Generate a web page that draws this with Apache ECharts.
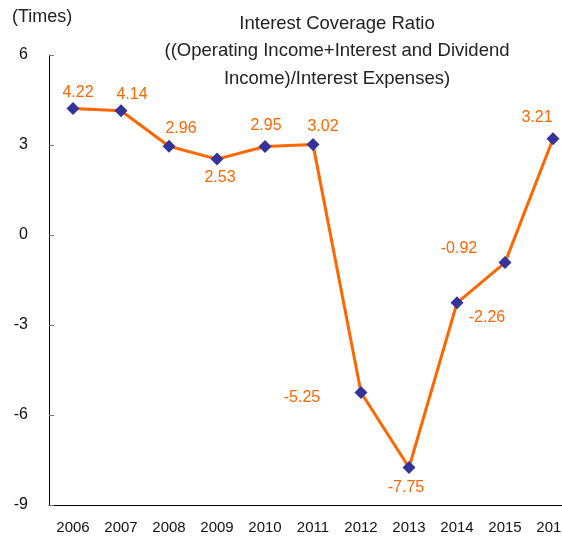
<!DOCTYPE html>
<html>
<head>
<meta charset="utf-8">
<script src="https://cdn.jsdelivr.net/npm/echarts@6/dist/echarts.min.js"></script>
<style>
  html, body { margin: 0; padding: 0; background: #fff; overflow: hidden; }
  /* the plot runs past the right edge of the window, as in the original */
  #chart { width: 577px; height: 539px; }
</style>
</head>
<body>
<div id="chart"></div>
<script>
  const years = ['2006', '2007', '2008', '2009', '2010', '2011', '2012', '2013', '2014', '2015', '2016']
  const ratio = [4.22, 4.14, 2.96, 2.53, 2.95, 3.02, -5.25, -7.75, -2.26, -0.92, 3.21]

  // where each value label sits relative to its marker
  const labelShift = [
    [5, -16], [11, -16], [12, -18], [3, 18], [1, -21], [10, -18],
    [-59, 5], [-3, 20], [30, 15], [-46, -14], [-16, -21]
  ]

  const font = 'Liberation Sans, Arial, sans-serif'
  const chart = echarts.init(document.getElementById('chart'))
  chart.setOption({
    backgroundColor: '#fff',
    animation: false,
    textStyle: { fontFamily: font },
    title: {
      text: 'Interest Coverage Ratio\n((Operating Income+Interest and Dividend\nIncome)/Interest Expenses)',
      left: 332,
      top: 5,
      textAlign: 'center',
      textStyle: { fontSize: 18.5, fontWeight: 'normal', color: '#222', lineHeight: 27.5, fontFamily: font }
    },
    graphic: [{
      type: 'text',
      left: 12,
      top: 8,
      style: { text: '(Times)', fontSize: 18, fill: '#222', fontFamily: font }
    }],
    grid: { left: 49, right: 0, top: 55, bottom: 34 },
    xAxis: {
      type: 'category',
      data: years,
      boundaryGap: true,
      axisLine: { onZero: false, lineStyle: { color: '#000', width: 1 } },
      axisTick: { inside: true, length: 5, lineStyle: { color: '#333' } },
      axisLabel: { color: '#111', fontSize: 15, margin: 15 }
    },
    yAxis: {
      type: 'value',
      min: -9,
      max: 6,
      interval: 3,
      axisLine: { show: true, lineStyle: { color: '#000', width: 1 } },
      axisTick: { show: true, inside: true, length: 5, lineStyle: { color: '#777' } },
      splitLine: { show: false },
      axisLabel: {
        color: '#111',
        fontSize: 16,
        margin: 21,
        formatter: v => String(v)
      }
    },
    series: [{
      type: 'line',
      data: ratio.map((v, i) => ({
        value: v,
        label: { offset: labelShift[i] }
      })),
      symbol: 'diamond',
      symbolSize: 13,
      lineStyle: { color: '#FF6600', width: 3 },
      itemStyle: { color: '#333399' },
      label: {
        show: true,
        position: 'inside',
        align: 'center',
        verticalAlign: 'middle',
        color: '#FF6600',
        fontSize: 16,
        formatter: p => p.value.toFixed(2)
      }
    }]
  })
</script>
</body>
</html>
